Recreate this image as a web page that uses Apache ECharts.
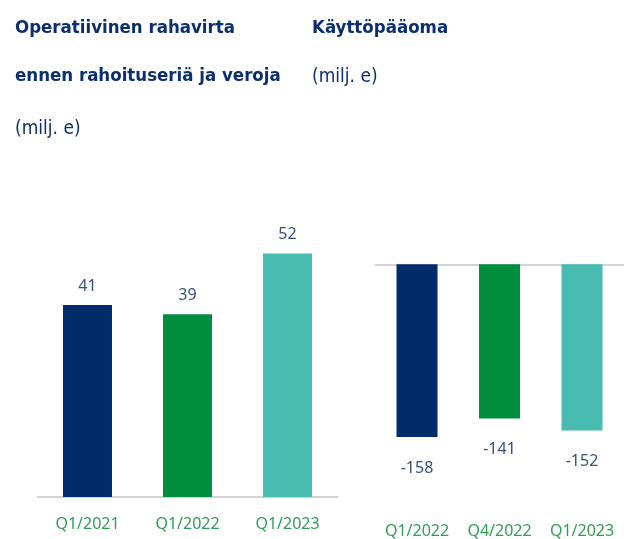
<!DOCTYPE html>
<html>
<head>
<meta charset="utf-8">
<script src="https://cdn.jsdelivr.net/npm/echarts@6/dist/echarts.min.js"></script>
<style>
  html, body { margin: 0; padding: 0; background: #fff; }
  #main { width: 629px; height: 539px; }
</style>
</head>
<body>
<div id="main"></div>
<script>
// operatiivinen rahavirta
var cashQuarters = ['Q1/2021', 'Q1/2022', 'Q1/2023'];
var cashValues = [41, 39, 52];
// kayttopaaoma
var wcQuarters = ['Q1/2022', 'Q4/2022', 'Q1/2023'];
var wcValues = [-158, -141, -152];

var barColors = ['#002d6a', '#008e3e', '#48bcb0'];
var navy = '#0b2f6c';
var labelFont = 'Noto Sans';
var titleFont = '"DejaVu Sans Condensed", "Liberation Sans Narrow", Roboto, sans-serif';

function coloured(values) {
    return values.map(function (v, i) {
        return { value: v, itemStyle: { color: barColors[i] } };
    });
}

var chart = echarts.init(document.getElementById('main'), null, { renderer: 'canvas' });

var option = {
    animation: false,
    title: [
        {
            text: 'Operatiivinen rahavirta\nennen rahoituseriä ja veroja',
            subtext: '(milj. e)',
            left: 10, top: -1,
            itemGap: 14,
            textStyle: { fontFamily: titleFont, fontWeight: 'bold', fontSize: 18.5, color: navy, lineHeight: 48 },
            subtextStyle: { fontFamily: titleFont, fontSize: 19, color: navy, lineHeight: 30 }
        },
        {
            text: 'Käyttöpääoma',
            subtext: '(milj. e)',
            left: 307, top: -1,
            itemGap: 10,
            textStyle: { fontFamily: titleFont, fontWeight: 'bold', fontSize: 18.5, color: navy, lineHeight: 48 },
            subtextStyle: { fontFamily: titleFont, fontSize: 19, color: navy, lineHeight: 30 }
        }
    ],
    grid: [
        { left: 37.5, width: 300, top: 216, height: 281 },
        { left: 375.75, width: 247.5, top: 264.3, height: 219 }
    ],
    xAxis: [
        {
            type: 'category', gridIndex: 0, data: cashQuarters,
            axisLine: { lineStyle: { color: '#d3d3d3', width: 2 } },
            axisTick: { show: false },
            axisLabel: { color: '#2f9e55', fontFamily: labelFont, fontSize: 16, margin: 19 }
        },
        {
            type: 'category', gridIndex: 1, data: wcQuarters, position: 'top',
            axisLine: { onZero: false, lineStyle: { color: '#d3d3d3', width: 2 } },
            axisTick: { show: false },
            axisLabel: { show: false }
        },
        {
            type: 'category', gridIndex: 1, data: wcQuarters, position: 'bottom',
            axisLine: { show: false, onZero: false },
            axisTick: { show: false },
            axisLabel: { color: '#2f9e55', fontFamily: labelFont, fontSize: 16, margin: 40, interval: 0, hideOverlap: false }
        }
    ],
    yAxis: [
        { type: 'value', gridIndex: 0, min: 0, max: 60, show: false },
        { type: 'value', gridIndex: 1, min: -200, max: 0, show: false }
    ],
    series: [
        {
            type: 'bar', xAxisIndex: 0, yAxisIndex: 0,
            barWidth: 49,
            data: coloured(cashValues),
            label: { show: true, position: 'top', distance: 11, color: '#34507f', fontFamily: labelFont, fontSize: 16 }
        },
        {
            type: 'bar', xAxisIndex: 2, yAxisIndex: 1,
            barWidth: 41,
            data: coloured(wcValues),
            label: { show: true, position: 'bottom', distance: 23, color: '#34507f', fontFamily: labelFont, fontSize: 16 }
        }
    ]
};

chart.setOption(option);
window.addEventListener('resize', chart.resize);
</script>
</body>
</html>
